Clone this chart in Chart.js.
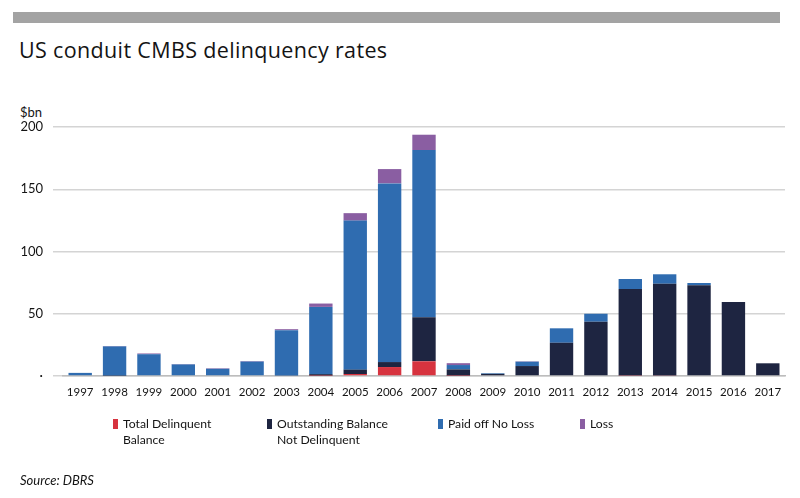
<!DOCTYPE html>
<html>
<head>
<meta charset="utf-8">
<script src="https://cdn.jsdelivr.net/npm/chart.js@4.4.1/dist/chart.umd.min.js"></script>
<style>
  html, body { margin: 0; padding: 0; background: #fff; }
  #wrap { position: relative; width: 800px; height: 498px; overflow: hidden; font-family: Lato, "Open Sans", sans-serif; color: #141414; }
  #band { position: absolute; left: 13px; top: 12px; width: 767px; height: 11px; background: #a3a3a3; }
  #title { position: absolute; left: 19px; top: 35px; font-family: "Open Sans", sans-serif; font-size: 21.5px; letter-spacing: 0.35px; white-space: nowrap; }
  #unit { position: absolute; left: 20px; top: 104px; font-size: 13px; }
  #chart { position: absolute; left: 0; top: 0; }
  .lg { position: absolute; top: 416px; font-size: 12.2px; line-height: 16px; }
  .lg i { position: absolute; left: -10px; top: 3px; width: 5px; height: 10px; }
  #source { position: absolute; left: 20px; top: 472px; font-size: 13px; font-style: italic; }
</style>
</head>
<body>
<div id="wrap">
  <div id="band"></div>
  <div id="title">US conduit CMBS delinquency rates</div>
  <div id="unit">$bn</div>
  <canvas id="chart" width="800" height="498"></canvas>
  <div id="legend"></div>
  <div id="source">Source: DBRS</div>
</div>
<script>
// years on the x axis
const years = ['1997', '1998', '1999', '2000', '2001', '2002', '2003', '2004', '2005', '2006', '2007',
  '2008', '2009', '2010', '2011', '2012', '2013', '2014', '2015', '2016', '2017'];

// $bn
const totalDelinquent = [0, 0, 0, 0, 0, 0, 0, 0.3, 1.6, 7.2, 11.8, 0.3, 0, 0, 0, 0, 0.4, 0.5, 0, 0, 0];
const outstandingNotDelinquent = [0, 0.3, 0, 0, 0, 0, 0.5, 1.2, 3.5, 4, 35.3, 5, 1.7, 8, 26.7, 43.6, 69.5, 73.6, 72.9, 59.4, 10.2];
const paidOffNoLoss = [2.5, 23.5, 17.5, 9.3, 5.8, 11.6, 36.3, 54, 119.7, 143.5, 134.4, 3.5, 0.5, 3.5, 11.6, 6.4, 8, 7.6, 1.8, 0, 0];
const loss = [0, 0.3, 0.6, 0.3, 0.4, 0.4, 0.8, 2.7, 6, 11.5, 12.3, 1.5, 0, 0.3, 0, 0, 0, 0, 0, 0, 0];

const yTicks = [0, 50, 100, 150, 200];

const seriesNames = [['Total Delinquent', 'Balance'], ['Outstanding Balance', 'Not Delinquent'], ['Paid off No Loss'], ['Loss']];
const seriesColors = ['#d7333f', '#1e2541', '#2f6cb0', '#8a5ea2'];
const legendLeft = [123, 277, 448, 590];

const seriesData = [totalDelinquent, outstandingNotDelinquent, paidOffNoLoss, loss];

const ctx = document.getElementById('chart').getContext('2d');
new Chart(ctx, {
  type: 'bar',
  data: {
    labels: years,
    datasets: seriesData.map((d, i) => ({
      label: seriesNames[i].join(' '),
      data: d,
      backgroundColor: seriesColors[i],
      borderWidth: 0,
      barPercentage: 0.68,
      categoryPercentage: 1
    }))
  },
  options: {
    responsive: false,
    animation: false,
    layout: { padding: { top: 127, right: 15, bottom: 92, left: 0 } },
    plugins: { legend: { display: false }, tooltip: { enabled: false } },
    scales: {
      x: {
        stacked: true,
        grid: { display: false },
        border: { color: '#bdbdbd', width: 1.5 },
        ticks: { color: '#141414', font: { family: 'Lato', size: 11.5 }, padding: 1, maxRotation: 0, autoSkip: false },
        afterFit: s => { s.height = 30; }
      },
      y: {
        stacked: true,
        min: 0,
        max: 200,
        afterBuildTicks: s => { s.ticks = yTicks.map(v => ({ value: v })); },
        grid: { color: '#d4d4d4', lineWidth: 1.5, drawTicks: true, tickLength: 10, tickColor: '#d4d4d4' },
        border: { display: false },
        ticks: {
          color: '#141414',
          font: { family: 'Lato', size: 13 },
          padding: 10,
          callback: v => v === 0 ? '·' : v
        },
        afterFit: s => { s.width = 63; }
      }
    }
  }
});

// legend with two-line labels
const legend = document.getElementById('legend');
seriesNames.forEach((name, i) => {
  const el = document.createElement('div');
  el.className = 'lg';
  el.style.left = legendLeft[i] + 'px';
  el.innerHTML = '<i style="background:' + seriesColors[i] + '"></i>' + name.join('<br>');
  legend.appendChild(el);
});
</script>
</body>
</html>
